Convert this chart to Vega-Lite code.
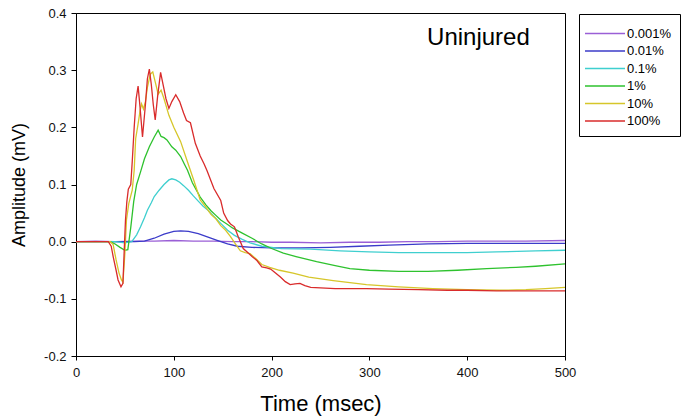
{
  "$schema": "https://vega.github.io/schema/vega-lite/v6.json",
  "width": 489,
  "height": 343,
  "autosize": {"type": "none"},
  "padding": {"left": 76, "top": 13, "right": 119, "bottom": 63},
  "background": "white",
  "config": {
    "font": "Liberation Sans",
    "view": {"stroke": "black", "strokeWidth": 1},
    "axis": {"grid": false, "domainColor": "black", "tickColor": "black", "labelColor": "#111", "titleColor": "black", "labelFont": "Liberation Sans", "titleFont": "Liberation Sans", "titleFontWeight": "normal"}
  },
  "layer": [
  {
  "data": {"values": [
    {"t":0,"v":0,"c":"0.001%"},{"t":20,"v":0.001,"c":"0.001%"},{"t":40,"v":0,"c":"0.001%"},{"t":60,"v":0.001,"c":"0.001%"},{"t":80,"v":0.001,"c":"0.001%"},{"t":100,"v":0.002,"c":"0.001%"},{"t":120,"v":0.001,"c":"0.001%"},{"t":140,"v":0.001,"c":"0.001%"},{"t":160,"v":0,"c":"0.001%"},{"t":180,"v":0,"c":"0.001%"},{"t":200,"v":-0.001,"c":"0.001%"},{"t":220,"v":-0.001,"c":"0.001%"},{"t":250,"v":-0.002,"c":"0.001%"},{"t":280,"v":-0.001,"c":"0.001%"},{"t":310,"v":-0.001,"c":"0.001%"},{"t":340,"v":0,"c":"0.001%"},{"t":370,"v":0,"c":"0.001%"},{"t":400,"v":0.001,"c":"0.001%"},{"t":430,"v":0.001,"c":"0.001%"},{"t":460,"v":0.001,"c":"0.001%"},{"t":500,"v":0.002,"c":"0.001%"},

    {"t":0,"v":0,"c":"0.01%"},{"t":30,"v":0,"c":"0.01%"},{"t":60,"v":0,"c":"0.01%"},{"t":70,"v":0.001,"c":"0.01%"},{"t":80,"v":0.006,"c":"0.01%"},{"t":90,"v":0.013,"c":"0.01%"},{"t":100,"v":0.018,"c":"0.01%"},{"t":107,"v":0.019,"c":"0.01%"},{"t":115,"v":0.018,"c":"0.01%"},{"t":125,"v":0.014,"c":"0.01%"},{"t":135,"v":0.008,"c":"0.01%"},{"t":145,"v":0.002,"c":"0.01%"},{"t":155,"v":-0.004,"c":"0.01%"},{"t":165,"v":-0.008,"c":"0.01%"},{"t":180,"v":-0.01,"c":"0.01%"},{"t":200,"v":-0.011,"c":"0.01%"},{"t":230,"v":-0.011,"c":"0.01%"},{"t":260,"v":-0.01,"c":"0.01%"},{"t":290,"v":-0.008,"c":"0.01%"},{"t":320,"v":-0.006,"c":"0.01%"},{"t":360,"v":-0.004,"c":"0.01%"},{"t":400,"v":-0.003,"c":"0.01%"},{"t":450,"v":-0.003,"c":"0.01%"},{"t":500,"v":-0.003,"c":"0.01%"},

    {"t":0,"v":0,"c":"0.1%"},{"t":40,"v":0,"c":"0.1%"},{"t":50,"v":-0.002,"c":"0.1%"},{"t":57,"v":0,"c":"0.1%"},{"t":62,"v":0.012,"c":"0.1%"},{"t":66,"v":0.026,"c":"0.1%"},{"t":70,"v":0.042,"c":"0.1%"},{"t":73,"v":0.055,"c":"0.1%"},{"t":77,"v":0.068,"c":"0.1%"},{"t":80,"v":0.079,"c":"0.1%"},{"t":85,"v":0.09,"c":"0.1%"},{"t":90,"v":0.1,"c":"0.1%"},{"t":95,"v":0.108,"c":"0.1%"},{"t":98,"v":0.11,"c":"0.1%"},{"t":102,"v":0.108,"c":"0.1%"},{"t":106,"v":0.104,"c":"0.1%"},{"t":110,"v":0.098,"c":"0.1%"},{"t":115,"v":0.09,"c":"0.1%"},{"t":120,"v":0.08,"c":"0.1%"},{"t":125,"v":0.071,"c":"0.1%"},{"t":130,"v":0.062,"c":"0.1%"},{"t":135,"v":0.055,"c":"0.1%"},{"t":140,"v":0.046,"c":"0.1%"},{"t":148,"v":0.032,"c":"0.1%"},{"t":155,"v":0.02,"c":"0.1%"},{"t":162,"v":0.011,"c":"0.1%"},{"t":170,"v":0.004,"c":"0.1%"},{"t":178,"v":-0.002,"c":"0.1%"},{"t":190,"v":-0.008,"c":"0.1%"},{"t":210,"v":-0.012,"c":"0.1%"},{"t":240,"v":-0.013,"c":"0.1%"},{"t":270,"v":-0.016,"c":"0.1%"},{"t":300,"v":-0.018,"c":"0.1%"},{"t":330,"v":-0.019,"c":"0.1%"},{"t":360,"v":-0.019,"c":"0.1%"},{"t":400,"v":-0.019,"c":"0.1%"},{"t":430,"v":-0.018,"c":"0.1%"},{"t":470,"v":-0.016,"c":"0.1%"},{"t":500,"v":-0.015,"c":"0.1%"},

    {"t":0,"v":0,"c":"1%"},{"t":35,"v":0,"c":"1%"},{"t":40,"v":-0.004,"c":"1%"},{"t":45,"v":-0.01,"c":"1%"},{"t":50,"v":-0.015,"c":"1%"},{"t":53,"v":-0.014,"c":"1%"},{"t":56,"v":0.025,"c":"1%"},{"t":59,"v":0.07,"c":"1%"},{"t":62,"v":0.1,"c":"1%"},{"t":66,"v":0.122,"c":"1%"},{"t":70,"v":0.145,"c":"1%"},{"t":75,"v":0.166,"c":"1%"},{"t":80,"v":0.183,"c":"1%"},{"t":84,"v":0.195,"c":"1%"},{"t":87,"v":0.184,"c":"1%"},{"t":90,"v":0.182,"c":"1%"},{"t":93,"v":0.178,"c":"1%"},{"t":98,"v":0.166,"c":"1%"},{"t":102,"v":0.16,"c":"1%"},{"t":107,"v":0.149,"c":"1%"},{"t":111,"v":0.135,"c":"1%"},{"t":114,"v":0.125,"c":"1%"},{"t":119,"v":0.103,"c":"1%"},{"t":127,"v":0.078,"c":"1%"},{"t":133,"v":0.064,"c":"1%"},{"t":138,"v":0.054,"c":"1%"},{"t":143,"v":0.046,"c":"1%"},{"t":148,"v":0.038,"c":"1%"},{"t":155,"v":0.03,"c":"1%"},{"t":160,"v":0.024,"c":"1%"},{"t":170,"v":0.015,"c":"1%"},{"t":180,"v":0.006,"c":"1%"},{"t":190,"v":-0.004,"c":"1%"},{"t":200,"v":-0.012,"c":"1%"},{"t":212,"v":-0.02,"c":"1%"},{"t":225,"v":-0.026,"c":"1%"},{"t":246,"v":-0.035,"c":"1%"},{"t":265,"v":-0.042,"c":"1%"},{"t":280,"v":-0.047,"c":"1%"},{"t":300,"v":-0.05,"c":"1%"},{"t":330,"v":-0.052,"c":"1%"},{"t":360,"v":-0.052,"c":"1%"},{"t":390,"v":-0.05,"c":"1%"},{"t":420,"v":-0.047,"c":"1%"},{"t":450,"v":-0.045,"c":"1%"},{"t":470,"v":-0.043,"c":"1%"},{"t":500,"v":-0.039,"c":"1%"},

    {"t":0,"v":0,"c":"10%"},{"t":35,"v":0,"c":"10%"},{"t":38,"v":-0.005,"c":"10%"},{"t":41,"v":-0.032,"c":"10%"},{"t":44,"v":-0.055,"c":"10%"},{"t":46.5,"v":-0.067,"c":"10%"},{"t":48,"v":-0.071,"c":"10%"},{"t":50,"v":-0.02,"c":"10%"},{"t":51.6,"v":0.038,"c":"10%"},{"t":54,"v":0.067,"c":"10%"},{"t":57.5,"v":0.09,"c":"10%"},{"t":59.5,"v":0.125,"c":"10%"},{"t":61,"v":0.18,"c":"10%"},{"t":63.5,"v":0.206,"c":"10%"},{"t":65.5,"v":0.229,"c":"10%"},{"t":67,"v":0.241,"c":"10%"},{"t":69,"v":0.232,"c":"10%"},{"t":71,"v":0.245,"c":"10%"},{"t":73,"v":0.27,"c":"10%"},{"t":76,"v":0.293,"c":"10%"},{"t":78.5,"v":0.297,"c":"10%"},{"t":81.5,"v":0.276,"c":"10%"},{"t":84,"v":0.258,"c":"10%"},{"t":87,"v":0.265,"c":"10%"},{"t":90,"v":0.25,"c":"10%"},{"t":95,"v":0.221,"c":"10%"},{"t":100,"v":0.2,"c":"10%"},{"t":107,"v":0.175,"c":"10%"},{"t":113.5,"v":0.142,"c":"10%"},{"t":120.5,"v":0.107,"c":"10%"},{"t":127,"v":0.073,"c":"10%"},{"t":132,"v":0.062,"c":"10%"},{"t":138,"v":0.048,"c":"10%"},{"t":143,"v":0.04,"c":"10%"},{"t":148,"v":0.028,"c":"10%"},{"t":153,"v":0.02,"c":"10%"},{"t":158,"v":0.009,"c":"10%"},{"t":163,"v":-0.004,"c":"10%"},{"t":168,"v":-0.016,"c":"10%"},{"t":173,"v":-0.019,"c":"10%"},{"t":178,"v":-0.021,"c":"10%"},{"t":184,"v":-0.03,"c":"10%"},{"t":190,"v":-0.04,"c":"10%"},{"t":198,"v":-0.045,"c":"10%"},{"t":208,"v":-0.05,"c":"10%"},{"t":222,"v":-0.055,"c":"10%"},{"t":238,"v":-0.062,"c":"10%"},{"t":263,"v":-0.068,"c":"10%"},{"t":297,"v":-0.075,"c":"10%"},{"t":330,"v":-0.079,"c":"10%"},{"t":365,"v":-0.082,"c":"10%"},{"t":400,"v":-0.084,"c":"10%"},{"t":433,"v":-0.085,"c":"10%"},{"t":460,"v":-0.084,"c":"10%"},{"t":480,"v":-0.082,"c":"10%"},{"t":500,"v":-0.08,"c":"10%"},

    {"t":0,"v":0,"c":"100%"},{"t":33,"v":0,"c":"100%"},{"t":36,"v":-0.008,"c":"100%"},{"t":38,"v":-0.026,"c":"100%"},{"t":41,"v":-0.05,"c":"100%"},{"t":43,"v":-0.067,"c":"100%"},{"t":46,"v":-0.079,"c":"100%"},{"t":48,"v":-0.073,"c":"100%"},{"t":49.2,"v":-0.02,"c":"100%"},{"t":50.6,"v":0.038,"c":"100%"},{"t":52,"v":0.07,"c":"100%"},{"t":53.5,"v":0.092,"c":"100%"},{"t":56,"v":0.1,"c":"100%"},{"t":57.5,"v":0.14,"c":"100%"},{"t":59.5,"v":0.2,"c":"100%"},{"t":61.5,"v":0.25,"c":"100%"},{"t":63.5,"v":0.272,"c":"100%"},{"t":65.5,"v":0.235,"c":"100%"},{"t":68,"v":0.183,"c":"100%"},{"t":71,"v":0.24,"c":"100%"},{"t":73,"v":0.285,"c":"100%"},{"t":75,"v":0.302,"c":"100%"},{"t":77,"v":0.275,"c":"100%"},{"t":79,"v":0.24,"c":"100%"},{"t":81,"v":0.213,"c":"100%"},{"t":83.5,"v":0.255,"c":"100%"},{"t":86.5,"v":0.296,"c":"100%"},{"t":89,"v":0.275,"c":"100%"},{"t":92,"v":0.25,"c":"100%"},{"t":95,"v":0.233,"c":"100%"},{"t":98,"v":0.245,"c":"100%"},{"t":102,"v":0.257,"c":"100%"},{"t":106,"v":0.245,"c":"100%"},{"t":110,"v":0.225,"c":"100%"},{"t":113,"v":0.212,"c":"100%"},{"t":117,"v":0.208,"c":"100%"},{"t":122,"v":0.172,"c":"100%"},{"t":127,"v":0.15,"c":"100%"},{"t":131,"v":0.136,"c":"100%"},{"t":134,"v":0.124,"c":"100%"},{"t":141,"v":0.093,"c":"100%"},{"t":148,"v":0.072,"c":"100%"},{"t":151,"v":0.05,"c":"100%"},{"t":155,"v":0.037,"c":"100%"},{"t":158,"v":0.031,"c":"100%"},{"t":162,"v":0.026,"c":"100%"},{"t":166,"v":0.008,"c":"100%"},{"t":171,"v":-0.012,"c":"100%"},{"t":175,"v":-0.018,"c":"100%"},{"t":180,"v":-0.026,"c":"100%"},{"t":185,"v":-0.033,"c":"100%"},{"t":190,"v":-0.044,"c":"100%"},{"t":195,"v":-0.046,"c":"100%"},{"t":199,"v":-0.048,"c":"100%"},{"t":204,"v":-0.055,"c":"100%"},{"t":209,"v":-0.062,"c":"100%"},{"t":214,"v":-0.07,"c":"100%"},{"t":219,"v":-0.075,"c":"100%"},{"t":224,"v":-0.074,"c":"100%"},{"t":229,"v":-0.073,"c":"100%"},{"t":234,"v":-0.077,"c":"100%"},{"t":240,"v":-0.08,"c":"100%"},{"t":250,"v":-0.081,"c":"100%"},{"t":265,"v":-0.082,"c":"100%"},{"t":280,"v":-0.082,"c":"100%"},{"t":297,"v":-0.082,"c":"100%"},{"t":320,"v":-0.083,"c":"100%"},{"t":350,"v":-0.084,"c":"100%"},{"t":380,"v":-0.085,"c":"100%"},{"t":400,"v":-0.085,"c":"100%"},{"t":430,"v":-0.086,"c":"100%"},{"t":460,"v":-0.086,"c":"100%"},{"t":500,"v":-0.086,"c":"100%"}
  ]},
  "mark": {"type": "line", "strokeWidth": 1.3, "clip": true},
  "encoding": {
    "x": {"field": "t", "type": "quantitative", "scale": {"domain": [0, 500], "nice": false, "zero": false},
      "axis": {"title": "Time (msec)", "values": [0,100,200,300,400,500], "tickSize": 4, "labelPadding": 6, "labelFontSize": 13, "titleFontSize": 22, "titlePadding": 14, "labelFlush": false}},
    "y": {"field": "v", "type": "quantitative", "scale": {"domain": [-0.2, 0.4], "nice": false, "zero": false},
      "axis": {"title": "Amplitude (mV)", "values": [-0.2,-0.1,0,0.1,0.2,0.3,0.4], "format": ".1f", "labelExpr": "replace(datum.label, '\u2212', '-')", "tickSize": 5, "labelPadding": 5, "labelFontSize": 13, "titleFontSize": 18, "titlePadding": 15, "labelFlush": false}},
    "color": {"field": "c", "type": "nominal",
      "scale": {"domain": ["0.001%","0.01%","0.1%","1%","10%","100%"], "range": ["#9a5fd6","#3b3bc9","#3fcfcf","#2ec22e","#d6c62a","#d92b2b"]},
      "legend": {"title": " ", "titleFontSize": 2, "titlePadding": 3, "orient": "none", "legendX": 503, "legendY": 1, "strokeColor": "black", "fillColor": "white", "padding": 8, "symbolType": "M-1.7,0H6.3", "symbolSize": 100, "symbolStrokeWidth": 1.5, "labelFontSize": 13, "labelFont": "Liberation Sans", "labelColor": "black", "labelOffset": 27, "rowPadding": 3.5, "cornerRadius": 0}}
  }
  },
  {
    "data": {"values": [{"t": 464, "v": 0.344, "label": "Uninjured"}]},
    "mark": {"type": "text", "align": "right", "baseline": "alphabetic", "fontSize": 24, "font": "Liberation Sans", "color": "black"},
    "encoding": {
      "x": {"field": "t", "type": "quantitative"},
      "y": {"field": "v", "type": "quantitative"},
      "text": {"field": "label"}
    }
  }
  ]
}
